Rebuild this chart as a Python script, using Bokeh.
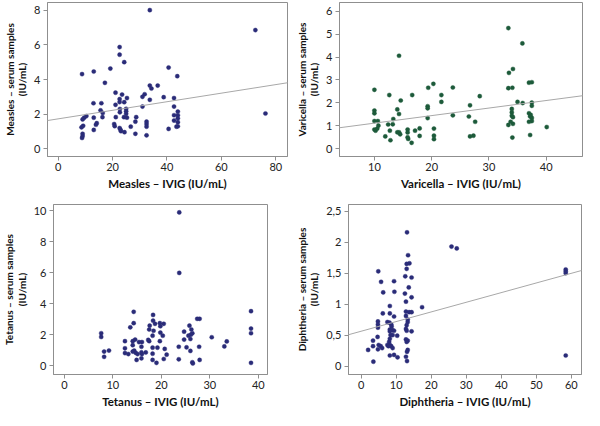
from bokeh.plotting import figure
from bokeh.layouts import column, row
from bokeh.models import Slope, FixedTicker, CustomJSTickFormatter, Range1d
from bokeh.embed import file_html
from bokeh.resources import INLINE

# ---------------- data ----------------
measles_x = [33.7, 72.5, 76.2, 22.6, 22.6, 24.3, 19.2, 13.1, 8.8, 17.2, 40.6, 43.8, 33.7, 34.3, 36.6, 38.8,
             31.8, 33.7, 31.0, 31.0, 21.1, 23.5, 22.6, 22.6, 24.3, 25.3, 21.1, 13.0, 15.9, 15.6, 16.4, 16.3,
             22.7, 22.7, 25.0, 25.0, 25.0, 10.4, 9.6, 9.0, 13.1, 21.2, 24.2, 25.3, 28.7, 28.4, 32.5, 32.5,
             32.5, 9.2, 8.6, 14.2, 13.9, 20.6, 20.8, 22.6, 22.9, 23.1, 24.4, 26.7, 13.1, 28.4, 32.5, 9.0,
             9.0, 8.8, 42.6, 42.6, 44.0, 42.6, 44.0, 44.0, 42.6, 44.0, 44.0, 43.5, 40.6]
measles_y = [8.0, 6.85, 2.04, 5.87, 5.43, 5.0, 4.63, 4.46, 4.31, 3.81, 4.69, 4.19, 3.65, 3.48, 3.65, 2.98,
             3.15, 2.83, 3.0, 2.44, 3.24, 3.13, 2.87, 2.7, 2.69, 2.93, 2.54, 2.63, 2.63, 2.22, 2.07, 1.83,
             2.3, 2.11, 2.31, 2.17, 2.02, 1.89, 1.8, 1.7, 1.8, 1.83, 1.83, 1.8, 1.83, 1.57, 1.57, 1.43,
             1.28, 1.33, 1.24, 1.48, 1.39, 1.43, 1.31, 1.2, 1.11, 1.02, 0.96, 1.28, 1.09, 0.87, 0.78, 0.87,
             0.74, 0.63, 2.93, 2.44, 2.15, 1.94, 1.94, 1.76, 1.63, 1.54, 1.3, 1.28, 1.15]

varicella_x = [33.4, 35.85, 14.3, 10.0, 12.6, 16.6, 19.4, 20.3, 23.7, 21.7, 21.7, 14.6, 28.4, 19.3, 19.3, 26.7,
               23.7, 26.5, 27.6, 19.3, 10.0, 10.0, 10.0, 10.6, 10.0, 10.2, 10.5, 10.7, 12.4, 13.2, 13.3, 14.0,
               14.3, 12.7, 11.9, 12.8, 14.0, 14.3, 14.5, 15.8, 15.8, 15.8, 15.9, 16.5, 17.1, 17.9, 17.9, 20.4,
               20.4, 20.4, 26.7, 27.3, 33.5, 34.2, 33.4, 34.1, 35.0, 35.9, 37.0, 37.5, 37.5, 37.5, 37.5, 37.0,
               37.3, 37.2, 37.5, 37.0, 37.2, 34.0, 34.0, 34.0, 34.2, 33.8, 34.2, 33.4, 34.1, 40.1]
varicella_y = [5.27, 4.6, 4.06, 2.57, 2.34, 2.34, 2.66, 2.83, 2.67, 2.34, 2.04, 2.1, 2.29, 1.85, 1.76, 1.89,
               1.45, 1.4, 1.17, 1.33, 1.66, 1.54, 1.2, 1.2, 0.83, 0.78, 0.87, 1.0, 1.05, 1.06, 1.29, 1.71,
               1.51, 0.78, 0.53, 0.36, 0.71, 0.71, 0.62, 0.83, 0.7, 0.49, 0.42, 0.25, 0.78, 0.88, 0.55, 0.87,
               0.56, 0.41, 0.53, 0.56, 3.31, 3.48, 2.64, 2.66, 2.04, 1.99, 2.88, 2.9, 2.01, 1.87, 1.2, 1.54,
               1.47, 1.4, 1.34, 1.17, 0.59, 1.73, 1.58, 1.43, 1.37, 1.17, 1.08, 1.03, 0.48, 0.94]

tetanus_x = [23.7, 23.7, 14.3, 18.3, 18.3, 18.7, 14.3, 13.6, 17.6, 17.5, 18.4, 19.7, 20.5, 19.8, 20.3, 19.8,
             18.2, 17.3, 17.5, 19.7, 24.7, 24.7, 25.8, 26.2, 26.4, 26.1, 25.6, 26.0, 26.0, 27.4, 27.9, 27.8,
             27.9, 26.4, 26.5, 30.4, 33.0, 33.5, 38.5, 38.5, 38.5, 38.5, 23.6, 23.6, 25.2, 7.6, 7.6, 8.2,
             8.2, 9.2, 12.5, 12.5, 12.5, 13.2, 14.1, 14.6, 14.1, 14.4, 14.7, 15.1, 14.1, 14.9, 15.4, 16.0,
             15.9, 15.9, 16.0, 15.9, 16.8, 18.2, 18.2, 18.2, 19.2, 19.0, 20.5, 20.7, 21.1]
tetanus_y = [9.88, 5.98, 3.47, 3.27, 2.9, 2.7, 2.74, 2.47, 2.58, 2.33, 2.25, 2.74, 2.7, 2.54, 1.93, 2.13,
             1.93, 1.66, 1.58, 1.58, 2.19, 1.68, 2.58, 2.33, 2.09, 2.0, 1.93, 1.72, 0.95, 3.02, 3.02, 1.22,
             0.37, 0.22, 0.14, 1.83, 1.24, 1.56, 3.51, 2.39, 2.09, 0.18, 1.22, 0.41, 1.18, 2.09, 1.85, 0.91,
             0.57, 0.97, 1.58, 1.12, 0.81, 0.75, 1.58, 1.68, 1.32, 0.97, 0.83, 0.75, 0.91, 0.37, 1.52, 1.52,
             1.22, 0.85, 0.75, 0.47, 0.85, 1.16, 0.77, 0.37, 1.16, 0.18, 0.43, 1.08, 0.71]

diphtheria_x = [13.1, 25.8, 27.3, 58.4, 58.4, 58.4, 58.4, 13.4, 13.0, 13.8, 13.0, 4.9, 5.7, 9.4, 6.3, 9.5,
                12.6, 14.4, 13.6, 12.5, 14.4, 12.8, 17.4, 8.2, 6.2, 8.2, 9.4, 12.8, 13.7, 14.4, 12.8, 13.3,
                13.3, 13.0, 12.8, 13.0, 14.4, 12.8, 13.3, 13.0, 13.3, 13.1, 12.8, 13.1, 4.8, 4.8, 4.8, 7.5,
                8.1, 8.6, 8.7, 8.2, 9.0, 9.4, 8.2, 8.4, 9.0, 8.2, 8.0, 8.2, 8.6, 9.0, 7.5, 7.8, 10.3, 4.7,
                3.4, 3.4, 5.0, 5.6, 6.0, 4.8, 2.0, 3.5, 8.2, 9.4, 10.4]
diphtheria_y = [2.16, 1.93, 1.9, 1.56, 1.53, 1.5, 0.17, 1.79, 1.65, 1.66, 1.57, 1.53, 1.36, 1.37, 1.19, 1.2,
                1.45, 1.43, 1.27, 1.17, 1.11, 1.04, 0.95, 0.97, 0.85, 0.85, 0.8, 0.88, 0.87, 0.87, 0.81, 0.75,
                0.71, 0.66, 0.6, 0.57, 0.56, 0.43, 0.41, 0.39, 0.26, 0.23, 0.15, 0.08, 0.72, 0.67, 0.62, 0.71,
                0.7, 0.67, 0.64, 0.59, 0.58, 0.57, 0.56, 0.5, 0.5, 0.44, 0.39, 0.34, 0.32, 0.29, 0.34, 0.32,
                0.49, 0.47, 0.41, 0.32, 0.34, 0.32, 0.29, 0.27, 0.26, 0.07, 0.17, 0.18, 0.14]

# regression lines (intercept, slope)
measles_fit = (1.73, 0.0247)
varicella_fit = (0.78, 0.033)
diphtheria_fit = (0.562, 0.0156)

# ticks
measles_xticks = [0, 20, 40, 60, 80]
measles_yticks = [0, 2, 4, 6, 8]
varicella_xticks = [10, 20, 30, 40]
varicella_yticks = [0, 1, 2, 3, 4, 5, 6]
tetanus_xticks = [0, 10, 20, 30, 40]
tetanus_yticks = [0, 2, 4, 6, 8, 10]
diphtheria_xticks = [0, 10, 20, 30, 40, 50, 60]
diphtheria_yticks = [0, 0.5, 1, 1.5, 2, 2.5]

NAVY = "#2a2c78"
GREEN = "#1d5a3a"
FRAME = "#8f8f8f"
FONT = "Lato"


def panel(xs, ys, color, xlabel, ylabel, xr, yr, xt, yt, w, h, borders, fit=None, comma=False):
    bl, br, bt, bb = borders
    p = figure(width=w, height=h, x_range=Range1d(*xr), y_range=Range1d(*yr),
               output_backend="svg", toolbar_location=None,
               min_border_left=bl, min_border_right=br, min_border_top=bt, min_border_bottom=bb)
    p.xgrid.visible = False
    p.ygrid.visible = False
    p.outline_line_color = FRAME
    p.outline_line_width = 1
    p.background_fill_color = "white"
    p.border_fill_color = "white"
    for ax in (p.xaxis[0], p.yaxis[0]):
        ax.axis_line_color = FRAME
        ax.major_tick_line_color = FRAME
        ax.minor_tick_line_color = None
        ax.major_tick_out = 4
        ax.major_tick_in = 0
        ax.major_label_text_font = FONT
        ax.major_label_text_font_size = "11px"
        ax.major_label_text_color = "#222222"
        ax.axis_label_text_font = FONT
        ax.axis_label_text_font_style = "bold"
        ax.axis_label_text_color = "#111111"
    p.xaxis.ticker = FixedTicker(ticks=xt)
    p.yaxis.ticker = FixedTicker(ticks=yt)
    p.xaxis.axis_label = xlabel
    p.yaxis.axis_label = ylabel
    p.xaxis.axis_label_text_font_size = "11.5px"
    p.yaxis.axis_label_text_font_size = "10px"
    p.yaxis.axis_label_text_line_height = 1.05
    p.xaxis.major_label_standoff = 2
    p.yaxis.major_label_standoff = 3
    p.xaxis.axis_label_standoff = 3
    p.yaxis.axis_label_standoff = 3
    if comma:
        p.yaxis.formatter = CustomJSTickFormatter(code="return String(tick).replace('.', ',');")
    if fit is not None:
        p.add_layout(Slope(gradient=fit[1], y_intercept=fit[0], line_color="#a8a8a8", line_width=1))
    p.scatter(xs, ys, marker="circle", size=4.2, fill_color=color, line_color=color, line_width=0.4)
    return p


p1 = panel(measles_x, measles_y, NAVY, "Measles \u2013 IVIG (IU/mL)", "Measles \u2013 serum samples\n(IU/mL)",
           (-3.9, 84.3), (-0.44, 8.44), measles_xticks, measles_yticks, 292, 192, (36, 5, 2, 36), measles_fit)
p2 = panel(varicella_x, varicella_y, GREEN, "Varicella \u2013 IVIG (IU/mL)", "Varicella \u2013 serum samples\n(IU/mL)",
           (3.9, 46.35), (-0.35, 6.39), varicella_xticks, varicella_yticks, 292, 192, (36, 2, 2, 36), varicella_fit)
p3 = panel(tetanus_x, tetanus_y, NAVY, "Tetanus \u2013 IVIG (IU/mL)", "Tetanus \u2013 serum samples\n(IU/mL)",
           (-2.24, 41.9), (-0.57, 10.39), tetanus_xticks, tetanus_yticks, 292, 218, (40, 25, 12, 36))
p4 = panel(diphtheria_x, diphtheria_y, NAVY, "Diphtheria \u2013 IVIG (IU/mL)", "Diphtheria \u2013 serum samples\n(IU/mL)",
           (-3.6, 62.9), (-0.137, 2.61), diphtheria_xticks, diphtheria_yticks, 292, 218, (55, 3, 12, 36),
           diphtheria_fit, comma=True)

layout = column(row(p1, p2), row(p3, p4))
open("out.html", "w").write(file_html(layout, INLINE))
